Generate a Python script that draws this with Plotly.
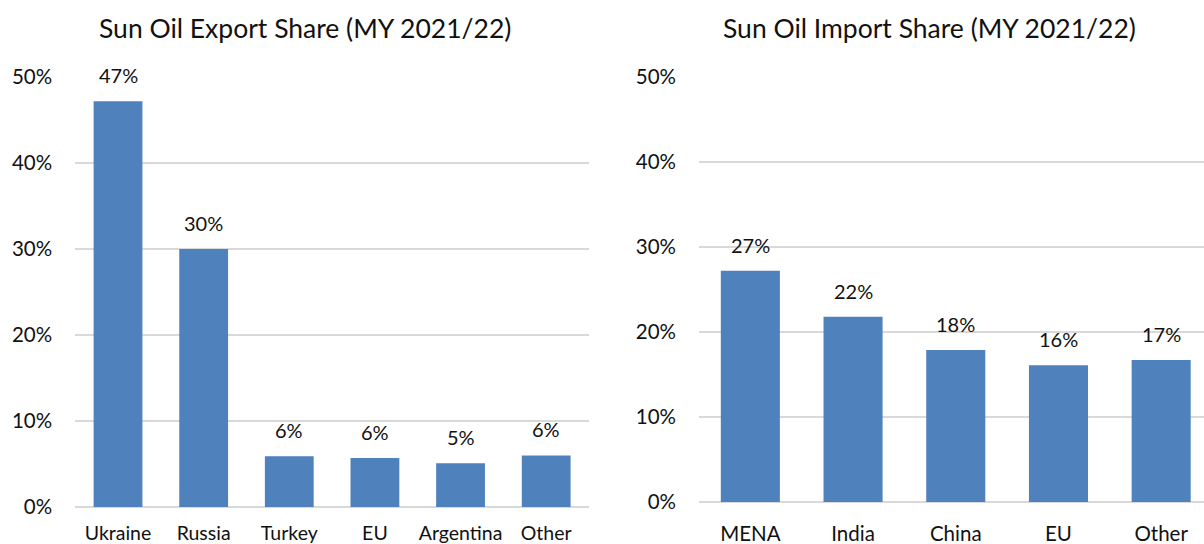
import plotly.graph_objects as go

export_countries = ["Ukraine", "Russia", "Turkey", "EU", "Argentina", "Other"]
export_share = [0.472, 0.300, 0.059, 0.057, 0.051, 0.060]
export_labels = ["47%", "30%", "6%", "6%", "5%", "6%"]

import_regions = ["MENA", "India", "China", "EU", "Other"]
import_share = [0.272, 0.218, 0.179, 0.161, 0.167]
import_labels = ["27%", "22%", "18%", "16%", "17%"]

y_ticks = [0, 0.1, 0.2, 0.3, 0.4, 0.5]
y_ticktext = ["0%", "10%", "20%", "30%", "40%", "50%"]

W, H = 1204, 544
BAR = "#4F81BD"
GRID = "#D9D9D9"
TXT = "#111111"
FONT = "Lato"

fig = go.Figure()
fig.add_trace(go.Bar(x=export_countries, y=export_share, marker=dict(color=BAR, line=dict(width=0)),
                     width=0.57, xaxis="x", yaxis="y", hoverinfo="skip"))
fig.add_trace(go.Bar(x=import_regions, y=import_share, marker=dict(color=BAR, line=dict(width=0)),
                     width=0.575, xaxis="x2", yaxis="y2", hoverinfo="skip"))

annotations = []
for c, v, t in zip(export_countries, export_share, export_labels):
    annotations.append(dict(x=c, y=v, xref="x", yref="y", text=t, showarrow=False,
                            yanchor="bottom", yshift=12, font=dict(size=20, color=TXT, family=FONT)))
for c, v, t in zip(import_regions, import_share, import_labels):
    annotations.append(dict(x=c, y=v, xref="x2", yref="y2", text=t, showarrow=False,
                            yanchor="bottom", yshift=12, font=dict(size=20, color=TXT, family=FONT)))

annotations.append(dict(x=305 / W, y=1 - 28 / H, xref="paper", yref="paper",
                        text="Sun Oil Export Share (MY 2021/22)", showarrow=False,
                        xanchor="center", yanchor="middle", font=dict(size=26.5, color=TXT, family=FONT)))
annotations.append(dict(x=929 / W, y=1 - 28 / H, xref="paper", yref="paper",
                        text="Sun Oil Import Share (MY 2021/22)", showarrow=False,
                        xanchor="center", yanchor="middle", font=dict(size=26.5, color=TXT, family=FONT)))

yaxis_common = dict(range=[0, 0.5001], tickvals=y_ticks, ticktext=y_ticktext,
                    showgrid=True, gridcolor=GRID, gridwidth=1.5,
                    zeroline=True, zerolinecolor=GRID, zerolinewidth=1.5,
                    showline=False, ticks="", ticklabelstandoff=22, automargin=False,
                    tickfont=dict(size=20.5, color=TXT, family=FONT), fixedrange=True)
xaxis_common = dict(showgrid=False, zeroline=False, showline=False, ticks="",
                    automargin=False, fixedrange=True, type="category")

fig.update_layout(
    width=W, height=H,
    margin=dict(l=0, r=0, t=0, b=0),
    paper_bgcolor="white", plot_bgcolor="white",
    showlegend=False,
    font=dict(family=FONT, color=TXT),
    xaxis=dict(domain=[75.2 / W, 589 / W], range=[-0.5, 5.5], anchor="y",
               ticklabelstandoff=12, tickfont=dict(size=19.5, color=TXT, family=FONT), **xaxis_common),
    yaxis=dict(domain=[(H - 507) / H, (H - 77) / H], anchor="x", **yaxis_common),
    xaxis2=dict(domain=[699 / W, 1.0], range=[-0.5, 4.417], anchor="y2",
                ticklabelstandoff=17, tickfont=dict(size=20.5, color=TXT, family=FONT), **xaxis_common),
    yaxis2=dict(domain=[(H - 502) / H, (H - 77) / H], anchor="x2", **yaxis_common),
    annotations=annotations,
)

fig.write_html("out.html", config={"displayModeBar": False},
               post_script="document.body.style.margin='0';document.body.style.overflow='hidden';")
